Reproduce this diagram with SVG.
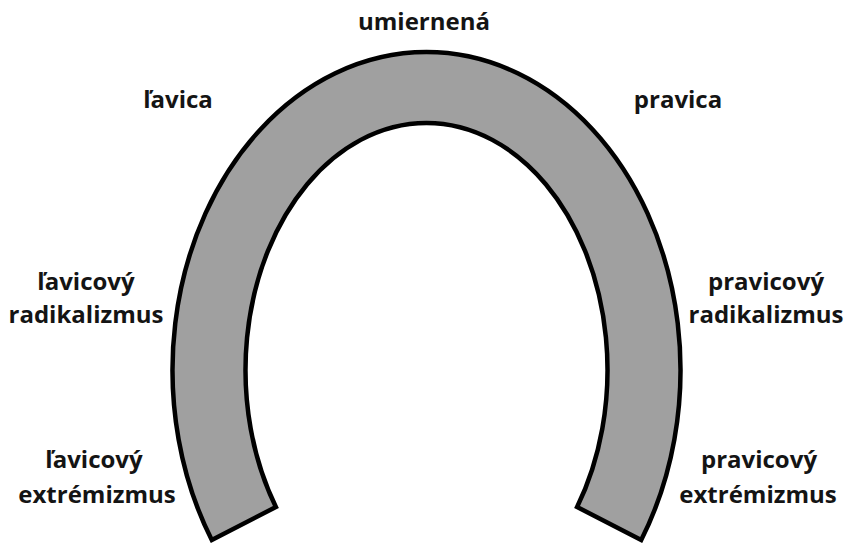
<svg xmlns="http://www.w3.org/2000/svg" width="848" height="543" viewBox="0 0 848 543">
<style>
  .lbl { font-family: "Open Sans", "Liberation Sans", sans-serif; font-weight: 700; font-size: 24px; fill: #141414; text-anchor: middle; }
  .shoe { fill: #a0a0a0; stroke: #000; stroke-width: 4.5; stroke-linejoin: miter; }
</style>
<rect width="848" height="543" fill="#fff"/>
<g id="horseshoe">
  <path class="shoe" d="M 211.8,540 A 254 318 0 1 1 641.2,540 L 577.1,507 A 181 247 0 1 0 275.9,507 Z"/>
</g>
<g id="connectors"></g>
<g id="label-umiernena"><text class="lbl" x="424" y="30">umiernená</text></g>
<g id="label-lavica"><text class="lbl" x="178" y="108">ľavica</text></g>
<g id="label-pravica"><text class="lbl" x="678" y="108">pravica</text></g>
<g id="label-lavicovy-radikalizmus">
  <text class="lbl" x="86" y="290">ľavicový</text>
  <text class="lbl" x="86" y="323">radikalizmus</text>
</g>
<g id="label-pravicovy-radikalizmus">
  <text class="lbl" x="766" y="290">pravicový</text>
  <text class="lbl" x="766" y="323">radikalizmus</text>
</g>
<g id="label-lavicovy-extremizmus">
  <text class="lbl" x="94" y="468">ľavicový</text>
  <text class="lbl" x="97" y="503">extrémizmus</text>
</g>
<g id="label-pravicovy-extremizmus">
  <text class="lbl" x="759" y="468">pravicový</text>
  <text class="lbl" x="758" y="503">extrémizmus</text>
</g>
</svg>
